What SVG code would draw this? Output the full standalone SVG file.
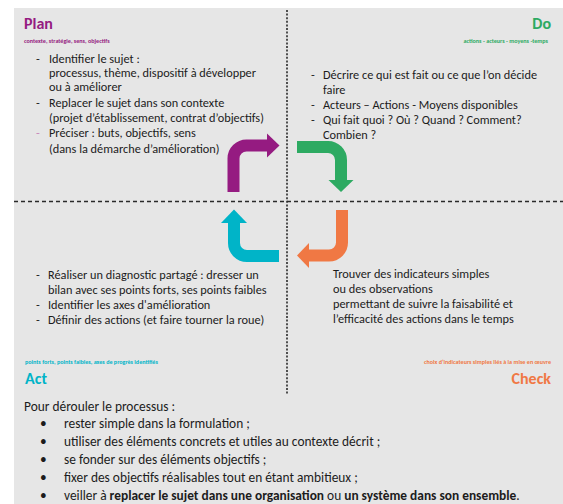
<svg xmlns="http://www.w3.org/2000/svg" width="563" height="504" viewBox="0 0 563 504">
<style>
text{font-family:Carlito,Lato,"Liberation Sans",sans-serif;fill:#1c1c1c}
.b{font-size:12.3px}
.t{font-size:16px;font-weight:bold}
.s{font-size:6.1px;font-weight:bold}
.f{font-size:13.4px}
.pu{fill:#951b81}.gr{fill:#2daa62}.cy{fill:#00b4c8}.or{fill:#f07844}
.ap{fill:none;stroke-width:12}
</style>
<rect x="14" y="8" width="549" height="496" fill="#e6e6e6"/>
<g id="dividers" fill="none" stroke="#2a2a2a" stroke-width="1.6">
<line x1="287" y1="10" x2="287" y2="394" stroke-dasharray="2 1.6"/>
<line x1="14" y1="201.5" x2="563" y2="201.5" stroke-dasharray="4 3"/>
</g>
<g id="plan">
<text class="t pu" x="24" y="29">Plan</text>
<text class="s pu" x="24" y="42.5">contexte, stratégie, sens, objectifs</text>
<g class="b">
<text x="36" y="62.5">-</text><text x="49" y="62.5">Identifier le sujet :</text>
<text x="49" y="77">processus, thème, dispositif à développer</text>
<text x="49" y="91">ou à améliorer</text>
<text x="36" y="106.5">-</text><text x="49" y="106.5">Replacer le sujet dans son contexte</text>
<text x="49" y="121.5">(projet d’établissement, contrat d’objectifs)</text>
<text x="36" y="137" style="fill:#c98abb">-</text><text x="49" y="137">Préciser : buts, objectifs, sens</text>
<text x="49" y="153">(dans la démarche d’amélioration)</text>
</g>
</g>
<g id="do">
<text class="t gr" x="551" y="29" text-anchor="end">Do</text>
<text class="s gr" x="548" y="42.5" text-anchor="end">actions - acteurs - moyens -temps</text>
<g class="b">
<text x="311" y="79">-</text><text x="323" y="79">Décrire ce qui est fait ou ce que l’on décide</text>
<text x="323" y="94">faire</text>
<text x="311" y="109">-</text><text x="323" y="109">Acteurs – Actions - Moyens disponibles</text>
<text x="311" y="123.5">-</text><text x="323" y="123.5">Qui fait quoi ? Où ? Quand ? Comment?</text>
<text x="323" y="138.5">Combien ?</text>
</g>
</g>
<g id="act">
<g class="b">
<text x="36" y="279">-</text><text x="48" y="279">Réaliser un diagnostic partagé : dresser un</text>
<text x="48" y="293.5">bilan avec ses points forts, ses points faibles</text>
<text x="36" y="309">-</text><text x="48" y="309">Identifier les axes d'amélioration</text>
<text x="36" y="324">-</text><text x="48" y="324">Définir des actions (et faire tourner la roue)</text>
</g>
<text class="s cy" x="25" y="364">points forts, points faibles, axes de progrès identifiés</text>
<text class="t cy" x="25" y="384">Act</text>
</g>
<g id="check">
<g class="b">
<text x="333" y="278">Trouver des indicateurs simples</text>
<text x="333" y="293">ou des observations</text>
<text x="333" y="308">permettant de suivre la faisabilité et</text>
<text x="333" y="323">l’efficacité des actions dans le temps</text>
</g>
<text class="s or" x="551" y="364" text-anchor="end">choix d’indicateurs simples liés à la mise en œuvre</text>
<text class="t or" x="551" y="384" text-anchor="end">Check</text>
</g>
<g id="connectors">
<path class="ap" stroke="#951b81" d="M233.5,192 V158.5 A13,13 0 0 1 246.5,145.5 H268"/>
<polygon fill="#951b81" points="267,133.5 279.5,145.5 267,157.5"/>
<path class="ap" stroke="#2daa62" d="M297,147 H328 A13,13 0 0 1 341,160 V181"/>
<polygon fill="#2daa62" points="328.5,180 353.5,180 341,192"/>
<path class="ap" stroke="#f07844" d="M342,210 V242.5 A13,13 0 0 1 329,255.5 H308"/>
<polygon fill="#f07844" points="309,243 297,255.5 309,268"/>
<path class="ap" stroke="#00b4c8" d="M279,256 H247 A13,13 0 0 1 234,243 V222"/>
<polygon fill="#00b4c8" points="221,223 234,209.5 247,223"/>
</g>
<g id="notes" class="f">
<text x="24" y="410.5">Pour dérouler le processus :</text>
<g style="font-size:13.4px">
<text x="40" y="428">•</text><text x="64" y="428">rester simple dans la formulation ;</text>
<text x="40" y="446">•</text><text x="64" y="446">utiliser des éléments concrets et utiles au contexte décrit ;</text>
<text x="40" y="464">•</text><text x="64" y="464">se fonder sur des éléments objectifs ;</text>
<text x="40" y="482">•</text><text x="64" y="482">fixer des objectifs réalisables tout en étant ambitieux ;</text>
<text x="40" y="500">•</text><text x="64" y="500">veiller à <tspan font-weight="bold">replacer le sujet dans une organisation</tspan> ou <tspan font-weight="bold">un système dans son ensemble</tspan>.</text>
</g>
</g>
</svg>
